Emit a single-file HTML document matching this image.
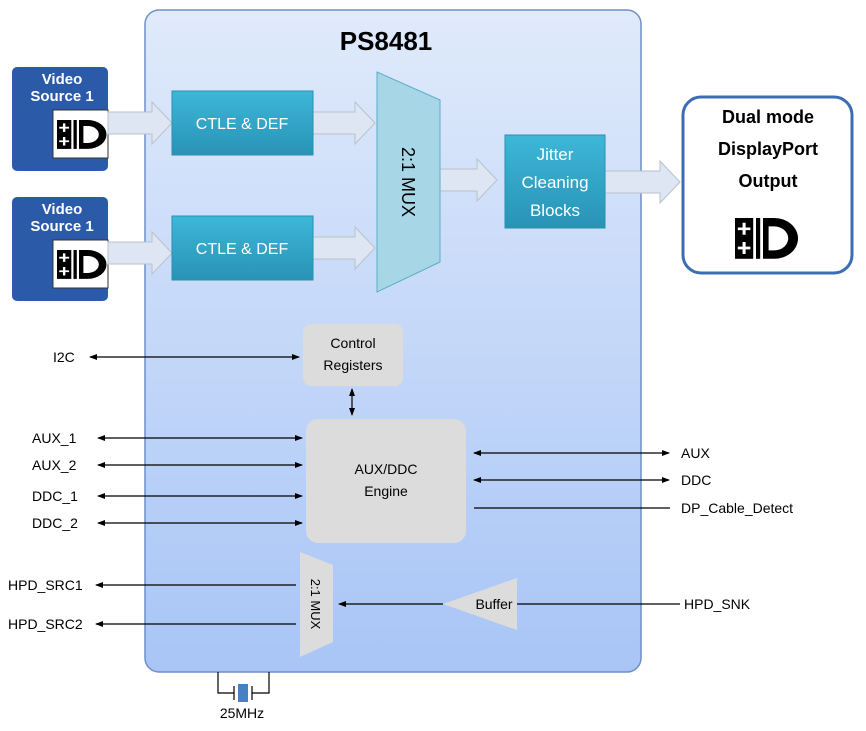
<!DOCTYPE html>
<html><head><meta charset="utf-8"><style>
html,body{margin:0;padding:0;background:#fff;}
svg{display:block;}
text{font-family:"Liberation Sans",sans-serif;}
</style></head><body>
<svg width="866" height="731" viewBox="0 0 866 731" xmlns="http://www.w3.org/2000/svg">
<defs>
<linearGradient id="chip" x1="0" y1="0" x2="0" y2="1">
<stop offset="0" stop-color="#e0eafb"/><stop offset="1" stop-color="#a8c5f6"/></linearGradient>
<linearGradient id="teal" x1="0" y1="0" x2="0" y2="1">
<stop offset="0" stop-color="#3db7d8"/><stop offset="1" stop-color="#2993b6"/></linearGradient>
<marker id="ah" markerWidth="8" markerHeight="8" refX="7" refY="4" orient="auto-start-reverse" markerUnits="userSpaceOnUse">
<path d="M0,1 L8,4 L0,7 Z" fill="#000"/></marker>
</defs>

<rect x="145" y="10" width="496" height="662" rx="14" fill="url(#chip)" stroke="#6f8fc9" stroke-width="1.5"/>
<text x="386" y="50" font-size="26" font-weight="bold" text-anchor="middle">PS8481</text>

<g>
<rect x="12" y="67" width="96" height="104" rx="5" fill="#2b5ba8"/>
<text x="62" y="84" font-size="15" font-weight="bold" fill="#fff" text-anchor="middle">Video</text>
<text x="62" y="101" font-size="15" font-weight="bold" fill="#fff" text-anchor="middle">Source 1</text>
<rect x="53" y="110" width="55" height="48" fill="#fff" stroke="#333"/>
<g transform="translate(57,120) scale(1.1,0.85)">
<rect x="0" y="0" width="13" height="34"/><path d="M6.5,4v10M2,9h9M6.5,20v10M2,25h9" stroke="#fff" stroke-width="2.2"/>
<rect x="15" y="0" width="3" height="34"/>
<path d="M20,0H28A17,17 0 0 1 28,34H20Z"/><path d="M24,7H28A10,10 0 0 1 28,27H24Z" fill="#fff"/></g>
</g>
<g>
<rect x="12" y="197" width="96" height="104" rx="5" fill="#2b5ba8"/>
<text x="62" y="214" font-size="15" font-weight="bold" fill="#fff" text-anchor="middle">Video</text>
<text x="62" y="231" font-size="15" font-weight="bold" fill="#fff" text-anchor="middle">Source 1</text>
<rect x="53" y="240" width="55" height="48" fill="#fff" stroke="#333"/>
<g transform="translate(57,250) scale(1.1,0.85)">
<rect x="0" y="0" width="13" height="34"/><path d="M6.5,4v10M2,9h9M6.5,20v10M2,25h9" stroke="#fff" stroke-width="2.2"/>
<rect x="15" y="0" width="3" height="34"/>
<path d="M20,0H28A17,17 0 0 1 28,34H20Z"/><path d="M24,7H28A10,10 0 0 1 28,27H24Z" fill="#fff"/></g>
</g>

<g fill="#dde6f2" stroke="#b8c2cc" stroke-width="1">
<path d="M108,112H152V102L172,123L152,144V134H108Z"/>
<path d="M108,242H152V232L172,253L152,274V264H108Z"/>
<path d="M313,112H355V102L375,123L355,144V134H313Z"/>
<path d="M313,237H355V227L375,248L355,269V259H313Z"/>
<path d="M440,169H477V159L497,180L477,201V191H440Z"/>
<path d="M605,171H660V161L680,182L660,203V193H605Z"/>
</g>

<rect x="172" y="91" width="141" height="64" fill="url(#teal)" stroke="#2a8fb0"/>
<text x="242" y="129" font-size="16" fill="#fff" text-anchor="middle">CTLE &amp; DEF</text>
<rect x="172" y="216" width="141" height="64" fill="url(#teal)" stroke="#2a8fb0"/>
<text x="242" y="254" font-size="16" fill="#fff" text-anchor="middle">CTLE &amp; DEF</text>

<path d="M377,72L440,100V262L377,292Z" fill="#a7d7e6" stroke="#5aaec8"/>
<text transform="translate(402,182) rotate(90)" font-size="18" text-anchor="middle">2:1 MUX</text>

<rect x="505" y="135" width="100" height="93" fill="url(#teal)" stroke="#2a8fb0"/>
<text x="555" y="160" font-size="17" fill="#fff" text-anchor="middle">Jitter</text>
<text x="555" y="188" font-size="17" fill="#fff" text-anchor="middle">Cleaning</text>
<text x="555" y="216" font-size="17" fill="#fff" text-anchor="middle">Blocks</text>

<rect x="683" y="97" width="169" height="176" rx="18" fill="#fff" stroke="#3c6db4" stroke-width="3"/>
<text x="768" y="123" font-size="18" font-weight="bold" text-anchor="middle">Dual mode</text>
<text x="768" y="155" font-size="18" font-weight="bold" text-anchor="middle">DisplayPort</text>
<text x="768" y="187" font-size="18" font-weight="bold" text-anchor="middle">Output</text>
<g transform="translate(735,218) scale(1.4,1.2)">
<rect x="0" y="0" width="13" height="34"/><path d="M6.5,4v10M2,9h9M6.5,20v10M2,25h9" stroke="#fff" stroke-width="2.2"/>
<rect x="15" y="0" width="3" height="34"/>
<path d="M20,0H28A17,17 0 0 1 28,34H20Z"/><path d="M24,7H28A10,10 0 0 1 28,27H24Z" fill="#fff"/></g>

<rect x="303" y="324" width="100" height="62" rx="8" fill="#dcdcdc"/>
<text x="353" y="348" font-size="14" text-anchor="middle">Control</text>
<text x="353" y="370" font-size="14" text-anchor="middle">Registers</text>
<rect x="306" y="419" width="160" height="124" rx="12" fill="#dcdcdc"/>
<text x="386" y="474" font-size="14" text-anchor="middle">AUX/DDC</text>
<text x="386" y="496" font-size="14" text-anchor="middle">Engine</text>

<g stroke="#000" stroke-width="1.2" fill="none">
<line x1="90" y1="357" x2="299" y2="357" marker-start="url(#ah)" marker-end="url(#ah)"/>
<line x1="352" y1="389" x2="352" y2="415" marker-start="url(#ah)" marker-end="url(#ah)"/>
<line x1="98" y1="438" x2="302" y2="438" marker-start="url(#ah)" marker-end="url(#ah)"/>
<line x1="98" y1="465" x2="302" y2="465" marker-start="url(#ah)" marker-end="url(#ah)"/>
<line x1="98" y1="496" x2="302" y2="496" marker-start="url(#ah)" marker-end="url(#ah)"/>
<line x1="98" y1="523" x2="302" y2="523" marker-start="url(#ah)" marker-end="url(#ah)"/>
<line x1="474" y1="453" x2="669" y2="453" marker-start="url(#ah)" marker-end="url(#ah)"/>
<line x1="474" y1="480" x2="669" y2="480" marker-start="url(#ah)" marker-end="url(#ah)"/>
<line x1="474" y1="508" x2="670" y2="508"/>
<line x1="96" y1="585" x2="296" y2="585" marker-start="url(#ah)"/>
<line x1="96" y1="624" x2="296" y2="624" marker-start="url(#ah)"/>
<line x1="339" y1="604" x2="443" y2="604" marker-start="url(#ah)"/>
<line x1="517" y1="604" x2="680" y2="604"/>
</g>

<path d="M300,552L333,565V642L300,657Z" fill="#dcdcdc"/>
<text transform="translate(311,604) rotate(90)" font-size="13" text-anchor="middle">2:1 MUX</text>
<path d="M443,604L517,578V630Z" fill="#dcdcdc"/>
<text x="494" y="609" font-size="14" text-anchor="middle">Buffer</text>

<g stroke="#000" stroke-width="1.2" fill="none">
<path d="M218,672V693H234M252,693H269V672"/>
<path d="M234,686V700M252,686V700"/>
</g>
<rect x="238" y="684" width="10" height="18" fill="#4a7fc1"/>
<text x="242" y="718" font-size="14" text-anchor="middle">25MHz</text>

<g font-size="14">
<text x="53" y="362">I2C</text>
<text x="32" y="443">AUX_1</text>
<text x="32" y="470">AUX_2</text>
<text x="32" y="501">DDC_1</text>
<text x="32" y="528">DDC_2</text>
<text x="681" y="458">AUX</text>
<text x="681" y="485">DDC</text>
<text x="681" y="513">DP_Cable_Detect</text>
<text x="8" y="590">HPD_SRC1</text>
<text x="8" y="629">HPD_SRC2</text>
<text x="684" y="609">HPD_SNK</text>
</g>
</svg>
</body></html>
